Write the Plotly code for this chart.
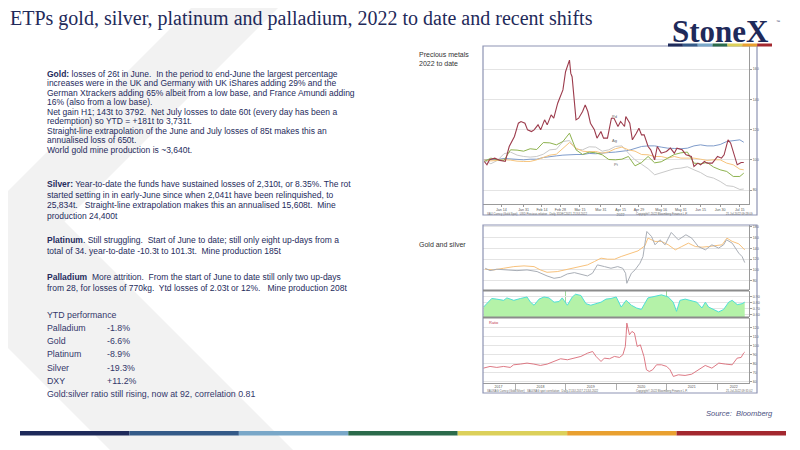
import plotly.graph_objects as go

# the page puts the figure 8px in from the top-left corner, so everything is laid out
# in window pixels and shifted back by that margin
OFF = 8
W, H = 800 - OFF, 450 - OFF

# ---- chart 1: precious metals and DXY, rebased to 100, 2022 to date ----
ytd_dates = [
    "2022-01-01", "2022-01-06", "2022-01-11", "2022-01-16", "2022-01-21", "2022-01-26", "2022-01-31",
    "2022-02-05", "2022-02-10", "2022-02-15", "2022-02-20", "2022-02-25",
    "2022-03-02", "2022-03-07", "2022-03-12", "2022-03-17", "2022-03-22", "2022-03-27",
    "2022-04-01", "2022-04-06", "2022-04-11", "2022-04-16", "2022-04-21", "2022-04-26",
    "2022-05-01", "2022-05-06", "2022-05-11", "2022-05-16", "2022-05-21", "2022-05-26", "2022-05-31",
    "2022-06-05", "2022-06-10", "2022-06-15", "2022-06-20", "2022-06-25", "2022-06-30",
    "2022-07-05", "2022-07-10", "2022-07-15", "2022-07-18",
]
gold_ytd = [100.0, 99.3, 99.6, 100.0, 99.8, 99.1, 98.9, 98.9, 100.0, 101.8, 103.1, 103.7,
            107.7, 111.4, 107.7, 105.7, 105.3, 105.5, 104.4, 105.3, 107.3, 108.4, 106.6, 105.7,
            103.5, 103.3, 102.2, 102.2, 101.1, 102.2, 101.1, 101.1, 101.1, 100.4, 99.6, 100.0,
            100.0, 97.8, 96.7, 93.8, 93.4]
platinum_ytd = [98.9, 101.1, 100.0, 99.6, 106.6, 106.4, 105.7, 107.3, 106.8, 111.4, 111.2, 109.9,
                112.1, 117.6, 106.6, 103.5, 105.1, 104.6, 103.3, 100.2, 100.0, 100.4, 102.2, 96.0,
                98.2, 102.2, 98.0, 98.7, 101.1, 103.5, 104.6, 105.1, 97.8, 97.4, 98.2, 95.2,
                93.4, 92.3, 89.0, 89.0, 91.2]
silver_ytd = [99.6, 97.4, 99.6, 104.0, 105.1, 103.1, 102.2, 101.8, 102.2, 103.7, 106.6, 107.0,
              112.1, 112.7, 107.0, 106.6, 108.6, 108.4, 105.7, 106.6, 108.8, 109.2, 104.4, 100.0,
              97.1, 94.1, 90.1, 91.6, 92.7, 94.1, 94.5, 95.4, 93.4, 91.6, 89.0, 87.9,
              85.7, 82.9, 82.4, 80.4, 80.7]
dxy_ytd = [100.0, 100.0, 100.2, 100.9, 100.7, 100.2, 100.0, 100.4, 100.4, 101.5, 102.2, 102.6,
           103.1, 103.5, 103.5, 103.5, 104.2, 104.0, 104.2, 104.8, 105.1, 105.5, 106.2, 107.5,
           108.8, 109.2, 109.2, 108.4, 107.7, 107.5, 107.3, 107.7, 109.2, 109.9, 109.2, 109.2,
           110.1, 112.1, 112.7, 113.2, 111.6]

pd_dates = [
    "2022-01-01", "2022-01-03", "2022-01-05", "2022-01-09", "2022-01-13", "2022-01-17", "2022-01-18",
    "2022-01-20", "2022-01-24", "2022-01-27", "2022-01-29", "2022-02-01", "2022-02-03", "2022-02-06",
    "2022-02-08", "2022-02-11", "2022-02-13", "2022-02-16", "2022-02-18", "2022-02-21", "2022-02-23",
    "2022-02-26", "2022-03-02", "2022-03-04", "2022-03-07", "2022-03-08", "2022-03-09", "2022-03-12",
    "2022-03-14", "2022-03-17", "2022-03-19", "2022-03-21", "2022-03-23", "2022-03-26", "2022-03-28",
    "2022-03-31", "2022-04-02", "2022-04-05", "2022-04-08", "2022-04-10", "2022-04-13", "2022-04-15",
    "2022-04-18", "2022-04-19", "2022-04-22", "2022-04-24", "2022-04-27", "2022-04-29", "2022-05-01",
    "2022-05-03", "2022-05-06", "2022-05-08", "2022-05-11", "2022-05-13", "2022-05-16", "2022-05-20",
    "2022-05-23", "2022-05-26", "2022-05-28", "2022-06-01", "2022-06-04", "2022-06-08", "2022-06-10",
    "2022-06-13", "2022-06-15", "2022-06-18", "2022-06-20", "2022-06-24", "2022-06-28", "2022-07-01",
    "2022-07-03", "2022-07-06", "2022-07-08", "2022-07-11", "2022-07-13", "2022-07-16", "2022-07-18",
]
palladium_ytd = [98.9, 96.7, 100.0, 101.1, 99.6, 98.9, 102.2, 108.8, 115.4, 124.2, 125.3, 124.2,
                 119.8, 118.7, 119.8, 123.1, 119.8, 126.4, 123.1, 129.7, 127.5, 137.4, 146.2, 158.2,
                 165.9, 157.1, 154.9, 126.4, 127.5, 131.9, 136.3, 131.9, 124.2, 119.8, 114.3, 118.7,
                 114.3, 114.3, 127.5, 127.5, 122.0, 125.3, 122.0, 128.6, 124.2, 113.2, 117.6, 120.9,
                 116.5, 116.5, 108.8, 106.6, 100.0, 108.8, 104.4, 105.5, 107.7, 104.4, 107.7, 106.6,
                 103.3, 102.2, 95.6, 97.8, 96.7, 98.9, 97.8, 97.8, 102.2, 101.1, 103.3, 113.2,
                 111.0, 102.2, 96.7, 98.2, 98.2]

ytd_tick_dates = ["2022-01-14", "2022-01-31", "2022-02-14", "2022-02-28", "2022-03-15", "2022-03-31",
                  "2022-04-15", "2022-04-29", "2022-05-16", "2022-05-31", "2022-06-15", "2022-06-30",
                  "2022-07-15"]
ytd_tick_text = ["Jan 14", "Jan 31", "Feb 14", "Feb 28", "Mar 15", "Mar 31", "Apr 15<br>2022", "Apr 29",
                 "May 16", "May 31", "Jun 15", "Jun 30", "Jul 15"]

# ---- chart 2: gold and silver (rebased), correlation, ratio ----
gs_gold_dates = ["2017-05-27", "2017-07-27", "2017-10-08", "2017-12-20", "2018-03-04", "2018-05-16",
                 "2018-07-01", "2018-08-18", "2018-10-31", "2019-01-12", "2019-03-26", "2019-06-07",
                 "2019-07-27", "2019-09-13", "2019-10-31", "2019-12-20", "2020-02-06", "2020-03-13",
                 "2020-04-20", "2020-06-07", "2020-07-27", "2020-08-18", "2020-10-08", "2020-11-24",
                 "2021-01-12", "2021-03-04", "2021-04-20", "2021-06-07", "2021-07-27", "2021-09-13",
                 "2021-10-31", "2021-12-20", "2022-02-06", "2022-03-13", "2022-04-20", "2022-06-07",
                 "2022-07-20"]
gs_gold = [101.3, 100.0, 103.1, 106.2, 107.5, 106.2, 100.0, 95.6, 96.9, 101.3, 105.0, 109.4,
           115.6, 121.9, 120.0, 120.0, 125.0, 128.0, 132.4, 135.5, 145.0, 159.3, 153.1, 153.1,
           146.8, 137.4, 143.6, 149.9, 143.6, 142.4, 143.6, 144.9, 146.8, 159.3, 153.1, 148.6,
           137.4]
gs_silver_dates = ["2017-05-27", "2017-07-01", "2017-08-18", "2017-10-31", "2018-01-12", "2018-03-26",
                   "2018-06-07", "2018-08-18", "2018-10-08", "2018-11-24", "2019-01-12", "2019-03-04",
                   "2019-04-20", "2019-06-07", "2019-07-13", "2019-08-18", "2019-10-08", "2019-11-24",
                   "2020-01-12", "2020-02-17", "2020-03-09", "2020-03-18", "2020-04-20", "2020-05-16",
                   "2020-06-21", "2020-07-13", "2020-07-31", "2020-08-10", "2020-09-13", "2020-10-08",
                   "2020-11-13", "2020-12-20", "2021-02-03", "2021-03-26", "2021-05-20", "2021-07-01",
                   "2021-08-18", "2021-10-08", "2021-11-24", "2022-01-12", "2022-02-17", "2022-03-10",
                   "2022-04-20", "2022-06-07", "2022-07-01", "2022-07-20"]
gs_silver = [103.1, 98.7, 101.3, 100.0, 98.7, 100.0, 96.9, 88.8, 84.4, 86.3, 92.5, 95.0,
             92.5, 88.8, 93.8, 109.4, 106.2, 103.1, 106.2, 103.1, 93.8, 75.1, 93.8, 100.0,
             112.5, 125.0, 156.0, 171.6, 162.3, 146.8, 156.1, 146.8, 169.8, 156.1, 165.5, 159.3,
             143.6, 137.4, 146.8, 140.6, 146.8, 156.1, 149.9, 131.2, 124.9, 113.7]

corr_dates = ["2017-05-15", "2017-06-07", "2017-07-13", "2017-08-18", "2017-10-08", "2017-10-31",
              "2017-12-20", "2018-02-06", "2018-03-26", "2018-04-20", "2018-05-16", "2018-06-21",
              "2018-07-27", "2018-09-01", "2018-10-08", "2018-11-13", "2018-12-06", "2019-01-12",
              "2019-02-17", "2019-03-13", "2019-04-20", "2019-05-27", "2019-07-01", "2019-08-07",
              "2019-09-13", "2019-10-19", "2019-11-24", "2020-01-01", "2020-02-06", "2020-03-13",
              "2020-04-20", "2020-05-27", "2020-07-01", "2020-08-18", "2020-10-08", "2020-11-24",
              "2021-01-12", "2021-02-17", "2021-03-13", "2021-04-07", "2021-05-15", "2021-07-01",
              "2021-08-07", "2021-09-13", "2021-10-08", "2021-10-31", "2021-12-06", "2022-01-12",
              "2022-02-17", "2022-03-26", "2022-04-20", "2022-05-27", "2022-07-01", "2022-07-20"]
correlation = [0.73, 0.785, 0.87, 0.86, 0.84, 0.88, 0.84, 0.87, 0.895, 0.81, 0.76, 0.86,
               0.895, 0.88, 0.81, 0.82, 0.88, 0.76, 0.895, 0.94, 0.92, 0.785, 0.76, 0.785,
               0.81, 0.86, 0.87, 0.895, 0.73, 0.84, 0.76, 0.715, 0.69, 0.88, 0.91, 0.93,
               0.895, 0.81, 0.66, 0.84, 0.86, 0.825, 0.81, 0.715, 0.81, 0.73, 0.69, 0.65,
               0.69, 0.81, 0.84, 0.77, 0.785, 0.81]

ratio_dates = ["2017-05-14", "2017-07-01", "2017-08-19", "2017-10-07", "2017-11-24", "2017-12-19",
               "2018-02-06", "2018-03-26", "2018-05-14", "2018-07-01", "2018-08-19", "2018-10-07",
               "2018-11-24", "2019-01-13", "2019-03-02", "2019-04-20", "2019-06-08", "2019-07-14",
               "2019-08-08", "2019-09-13", "2019-10-07", "2019-11-13", "2019-12-19", "2020-01-25",
               "2020-02-18", "2020-03-07", "2020-03-13", "2020-03-18", "2020-04-06", "2020-04-24",
               "2020-05-12", "2020-06-01", "2020-06-24", "2020-07-20", "2020-08-07", "2020-08-28",
               "2020-09-21", "2020-10-19", "2020-11-24", "2021-01-01", "2021-01-25", "2021-02-18",
               "2021-03-26", "2021-05-14", "2021-07-01", "2021-08-19", "2021-10-07", "2021-11-24",
               "2022-01-13", "2022-03-02", "2022-04-20", "2022-05-26", "2022-06-24", "2022-07-12",
               "2022-07-20"]
gs_ratio = [74.8, 76.7, 75.6, 76.7, 75.6, 78.5, 79.3, 80.4, 79.3, 77.8, 79.3, 82.2,
            85.2, 84.1, 85.9, 87.8, 91.5, 93.3, 87.8, 82.2, 85.9, 85.2, 87.8, 86.7,
            89.6, 98.9, 111.9, 124.8, 111.9, 115.6, 113.7, 98.9, 100.7, 87.8, 73.0, 71.1,
            73.0, 78.5, 78.5, 76.7, 73.0, 65.6, 67.4, 66.7, 68.1, 73.0, 77.8, 74.8,
            80.4, 79.3, 78.5, 85.9, 86.7, 91.5, 92.6]

year_tick_dates = ["2017-09-01", "2018-07-01", "2019-07-01", "2020-07-01", "2021-07-01", "2022-05-01"]
year_tick_text = ["2017", "2018", "2019", "2020", "2021", "2022"]

# ---- commentary text ----
gold_lines = [
    "<b>Gold:</b> losses of 26t in June.\u00a0 In the period to end-June the largest percentage",
    "increases were in the UK and Germany with UK iShares adding 29% and the",
    "German Xtrackers adding 65% albeit from a low base, and France Amundi adding",
    "16% (also from a low base).",
    "Net gain H1; 143t to 3792.\u00a0 Net July losses to date 60t (every day has been a",
    "redemption) so YTD = +181t to 3,731t.",
    "Straight-line extrapolation of the June and July losses of 85t makes this an",
    "annualised loss of 650t.",
    "World gold mine production is ~3,640t.",
]
silver_lines = [
    "<b>Silver:</b> Year-to-date the funds have sustained losses of 2,310t, or 8.35%. The rot",
    "started setting in in early-June since when 2,041t have been relinquished, to",
    "25,834t.\u00a0\u00a0 Straight-line extrapolation makes this an annualised 15,608t.\u00a0 Mine",
    "production 24,400t",
]
platinum_lines = [
    "<b>Platinum</b>. Still struggling.\u00a0 Start of June to date; still only eight up-days from a",
    "total of 34. year-to-date -10.3t to 101.3t.\u00a0 Mine production 185t",
]
palladium_lines = [
    "<b>Palladium</b>\u00a0 More attrition.\u00a0 From the start of June to date still only two up-days",
    "from 28, for losses of 770kg.\u00a0 Ytd losses of 2.03t or 12%.\u00a0\u00a0 Mine production 208t",
]
ytd_labels = ["Palladium", "Gold", "Platinum", "Silver", "DXY"]
ytd_values = ["-1.8%", "-6.6%", "-8.9%", "-19.3%", "+11.2%"]

stripe_colors = ["#1e2a5a", "#345a88", "#79a7c8", "#2b6b4b", "#dcd05a", "#e9a030", "#a3282f"]

NAVY = "#252b5c"
SANS = "Arial, Liberation Sans, sans-serif"
SERIF = "Liberation Serif, Times New Roman, serif"


def px(x):
    return (x - OFF) / W


def py(y):
    return 1 - (y - OFF) / H


fig = go.Figure()

# chart 1 traces
fig.add_trace(go.Scatter(x=ytd_dates, y=dxy_ytd, mode="lines", line=dict(color="#7f9ccb", width=1),
                         xaxis="x", yaxis="y", name="DXY"))
fig.add_trace(go.Scatter(x=ytd_dates, y=silver_ytd, mode="lines", line=dict(color="#c9c9c9", width=1),
                         xaxis="x", yaxis="y", name="Silver"))
fig.add_trace(go.Scatter(x=ytd_dates, y=gold_ytd, mode="lines", line=dict(color="#f7c57e", width=1),
                         xaxis="x", yaxis="y", name="Gold"))
fig.add_trace(go.Scatter(x=ytd_dates, y=platinum_ytd, mode="lines", line=dict(color="#8db24e", width=1),
                         xaxis="x", yaxis="y", name="Platinum"))
fig.add_trace(go.Scatter(x=pd_dates, y=palladium_ytd, mode="lines", line=dict(color="#9c3b4c", width=1.1),
                         xaxis="x", yaxis="y", name="Palladium"))

# chart 2 traces
fig.add_trace(go.Scatter(x=gs_gold_dates, y=gs_gold, mode="lines", line=dict(color="#f8c27c", width=1),
                         xaxis="x2", yaxis="y2", name="Gold"))
fig.add_trace(go.Scatter(x=gs_silver_dates, y=gs_silver, mode="lines", line=dict(color="#a9aeb6", width=1),
                         xaxis="x2", yaxis="y2", name="Silver"))
fig.add_trace(go.Scatter(x=corr_dates, y=correlation, mode="lines", fill="tozeroy",
                         fillcolor="#b4f2a8", line=dict(color="#4fe0d6", width=1),
                         xaxis="x3", yaxis="y3", name="Correlation"))
fig.add_trace(go.Scatter(x=ratio_dates, y=gs_ratio, mode="lines", line=dict(color="#d96a76", width=0.9),
                         xaxis="x4", yaxis="y4", name="Ratio"))

x_dom = [px(483), px(749)]
tick_font = dict(family=SANS, size=3.6, color="#555555")
yax_common = dict(side="right", showline=True, linecolor="#9a9a9a", linewidth=1, ticks="outside",
                  ticklen=2, tickcolor="#9a9a9a", tickfont=tick_font, showgrid=True,
                  gridcolor="#e4e4e4", gridwidth=1, zeroline=False)

fig.update_layout(
    width=W, height=H, margin=dict(l=0, r=0, t=0, b=0),
    paper_bgcolor="white", plot_bgcolor="white", showlegend=False,
    xaxis=dict(domain=x_dom, anchor="y", type="date", range=["2021-12-31", "2022-07-22"],
               tickvals=ytd_tick_dates, ticktext=ytd_tick_text, tickfont=tick_font,
               ticks="outside", ticklen=2, tickcolor="#9a9a9a", showline=True, linecolor="#9a9a9a",
               showgrid=False, zeroline=False),
    yaxis=dict(domain=[py(204), py(46)], anchor="x", range=[70.8, 175.2],
               tickvals=[80, 100, 120, 140, 160], **yax_common),
    xaxis2=dict(domain=x_dom, anchor="y2", type="date", matches="x4", showticklabels=False,
                showgrid=False, zeroline=False),
    yaxis2=dict(domain=[py(290), py(225)], anchor="x2", range=[62.6, 183.7],
                tickvals=[80, 100, 120, 140, 160, 180], **yax_common),
    xaxis3=dict(domain=x_dom, anchor="y3", type="date", matches="x4", showticklabels=False,
                showgrid=False, zeroline=False,
                minor=dict(dtick="M12", tick0="2017-01-01", showgrid=True, gridcolor="#9ed89a")),
    yaxis3=dict(domain=[py(317), py(291)], anchor="x3", range=[0.567, 0.993],
                tickvals=[0.6, 0.7, 0.8, 0.9], tickformat=".2f", **yax_common),
    xaxis4=dict(domain=x_dom, anchor="y4", type="date", range=["2017-05-11", "2022-08-20"],
                tickvals=year_tick_dates, ticktext=year_tick_text, tickfont=tick_font, ticks="",
                showline=True, linecolor="#9a9a9a", showgrid=False, zeroline=False,
                minor=dict(dtick="M12", tick0="2017-01-01", ticks="outside", ticklen=6,
                           tickcolor="#b0b0b0", showgrid=False)),
    yaxis4=dict(domain=[py(383), py(318)], anchor="x4", range=[58.3, 130.5],
                tickvals=[60, 70, 80, 90, 100, 110, 120], **yax_common),
)

shapes = []
# light grey chevron behind the left text
shapes.append(dict(type="path", xref="paper", yref="paper", layer="below", line=dict(width=0),
                   fillcolor="#f2f2f2",
                   path="M {} {} L {} {} L {} {} L {} {} L {} {} L {} {} Z".format(
                       px(199), py(0), px(286), py(0), px(64.5), py(221.5),
                       px(293), py(450), px(110), py(450), px(-70.5), py(269.5))))
# chart frames
for top, bottom in [(46, 215), (225, 393)]:
    shapes.append(dict(type="rect", xref="paper", yref="paper", x0=px(483), x1=px(757),
                       y0=py(bottom), y1=py(top), line=dict(color="#8d93b3", width=1.2)))
# panel dividers in chart 2
for yy in [290.5, 317.5]:
    shapes.append(dict(type="line", xref="paper", yref="paper", x0=px(483), x1=px(749),
                       y0=py(yy), y1=py(yy), line=dict(color="#8c8c8c", width=2)))
# logo stripe and footer stripe
for i, c in enumerate(stripe_colors):
    lw = (772 - 668) / len(stripe_colors)
    shapes.append(dict(type="rect", xref="paper", yref="paper", x0=px(668 + i * lw),
                       x1=px(668 + (i + 1) * lw), y0=py(46.5), y1=py(43.5),
                       line=dict(width=0), fillcolor=c))
    fw = (786 - 20) / len(stripe_colors)
    shapes.append(dict(type="rect", xref="paper", yref="paper", x0=px(20 + i * fw),
                       x1=px(20 + (i + 1) * fw), y0=py(435.5), y1=py(431),
                       line=dict(width=0), fillcolor=c))
fig.update_layout(shapes=shapes)

ann = []


def note(x, y, text, size=8.5, color=NAVY, family=SANS, xanchor="left", **kw):
    ann.append(dict(xref="paper", yref="paper", x=px(x), y=py(y), text=text, showarrow=False,
                    xanchor=xanchor, yanchor="middle", font=dict(family=family, size=size, color=color),
                    **kw))


note(8, 18, "ETPs gold, silver, platinum and palladium, 2022 to date and recent shifts",
     size=20, family=SERIF, color="#1f2a5a")
note(720, 31, "<b>StoneX</b>", size=31, family=SERIF, color="#1f2a5a", xanchor="center")
note(774, 21, "\u2122", size=4, color="#1f2a5a")

for i, line in enumerate(gold_lines):
    note(45, 73.5 + i * 9.5, line)
for i, line in enumerate(silver_lines):
    note(45, 184 + i * 10.5, line)
for i, line in enumerate(platinum_lines):
    note(45, 240 + i * 10.5, line)
for i, line in enumerate(palladium_lines):
    note(45, 277 + i * 10.5, line)

ytd_color = "#33376a"
note(45, 315, "YTD performance", size=8.8, color=ytd_color)
for i, (lab, val) in enumerate(zip(ytd_labels, ytd_values)):
    note(45, 328 + i * 13.2, lab, size=8.8, color=ytd_color)
    note(105, 328 + i * 13.2, val, size=8.8, color=ytd_color)
note(45, 394, "Gold:silver ratio still rising, now at 92, correlation 0.81", size=8.8, color=ytd_color)

note(417, 55, "Precious metals", size=7, color="#333333")
note(417, 63, "2022 to date", size=7, color="#333333")
note(417, 244, "Gold and silver", size=7, color="#333333")
note(775, 413, "<i>Source:  Bloomberg</i>", size=7.5, color="#4a5080", xanchor="right")

# series labels inside chart 1
for x, y, t in [("2022-04-10", 128.5, "Pd"), ("2022-04-10", 112.5, "Ag"), ("2022-04-12", 97.2, "Pt")]:
    ann.append(dict(xref="x", yref="y", x=x, y=y, text=t, showarrow=False,
                    font=dict(family=SANS, size=4, color="#666666")))
ann.append(dict(xref="x4", yref="y4", x="2017-08-01", y=126, text="Ratio", showarrow=False,
                font=dict(family=SANS, size=4, color="#c0404c")))

# small print under the charts
for yy, left, mid, right in [
    (213.8, "XAU Curncy (Gold Spot)   USD Precious relative   Daily 31DEC2021-21JUL2022",
     "Copyright\u00a9 2022 Bloomberg Finance L.P.", "21-Jul-2022 09:28:09"),
    (391, "XAUXAG Curncy (Gold/Silver)   XAU/XAG spot correlation   Daily 21JUL2017-21JUL2022",
     "Copyright\u00a9 2022 Bloomberg Finance L.P.", "21-Jul-2022 09:31:02"),
]:
    note(485, yy, left, size=2.8, color="#666666")
    note(662, yy, mid, size=2.8, color="#666666", xanchor="center")
    note(755, yy, right, size=2.8, color="#666666", xanchor="right")

fig.update_layout(annotations=ann)
fig.write_html("out.html")
